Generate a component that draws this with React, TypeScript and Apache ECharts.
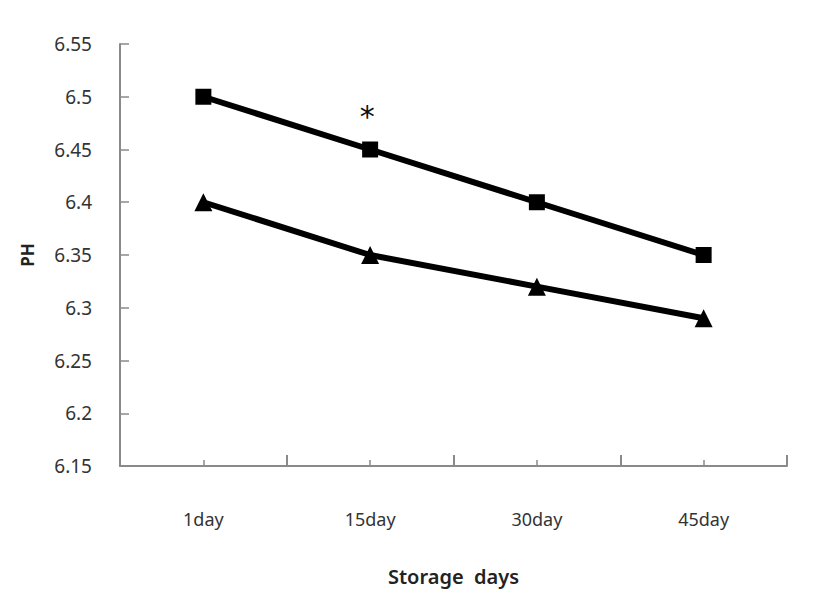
import React, { useEffect, useRef } from "react";
import * as echarts from "echarts";

const categories = ["1day", "15day", "30day", "45day"];
const seriesSquare = [6.5, 6.45, 6.4, 6.35];
const seriesTriangle = [6.4, 6.35, 6.32, 6.29];
const yTicks = { min: 6.15, max: 6.55, interval: 0.05 };
const markIndex = 1; // asterisk on 15day

export default function App() {
  const ref = useRef<HTMLDivElement>(null);
  useEffect(() => {
    const chart = echarts.init(ref.current!, undefined, { renderer: "svg" });
    const font = "'Noto Sans', 'Open Sans', sans-serif";
    chart.setOption({
      animation: false,
      backgroundColor: "#ffffff",
      grid: { left: 112, right: 32, top: 36, bottom: 132 },
      xAxis: [
        {
          type: "category",
          data: categories,
          boundaryGap: true,
          name: "Storage  days",
          nameLocation: "middle",
          nameGap: 100,
          nameTextStyle: { fontFamily: font, fontSize: 20, fontWeight: 600, color: "#222" },
          axisLine: { lineStyle: { color: "#8a8a8a", width: 2 } },
          axisTick: { show: true, inside: true, length: 11, lineStyle: { color: "#8a8a8a", width: 2 } },
          axisLabel: { fontFamily: font, fontSize: 18, color: "#333", margin: 44 },
          splitLine: { show: false },
        },
        {
          type: "value",
          min: 0,
          max: 8,
          interval: 1,
          position: "bottom",
          axisLine: { show: false },
          axisTick: { show: true, inside: true, length: 6, lineStyle: { color: "#8a8a8a", width: 1.5 } },
          axisLabel: { show: false },
          splitLine: { show: false },
        },
      ],
      yAxis: {
        type: "value",
        min: yTicks.min,
        max: yTicks.max,
        interval: yTicks.interval,
        name: "PH",
        nameLocation: "middle",
        nameGap: 84,
        nameRotate: 90,
        nameTextStyle: { fontFamily: font, fontSize: 17, fontWeight: "bold", color: "#222" },
        axisLine: { show: true, lineStyle: { color: "#8a8a8a", width: 2 } },
        axisTick: { show: true, inside: true, length: 9, lineStyle: { color: "#8a8a8a", width: 1.5 } },
        axisLabel: {
          fontFamily: font,
          fontSize: 19,
          color: "#333",
          margin: 28,
          formatter: (v: number) => String(parseFloat(v.toFixed(2))),
        },
        splitLine: { show: false },
      },
      series: [
        {
          type: "line",
          xAxisIndex: 0,
          data: seriesSquare.map((v, i) =>
            i === markIndex
              ? {
                  value: v,
                  label: {
                    show: true,
                    formatter: "*",
                    position: "top",
                    distance: 6,
                    fontSize: 30,
                    fontFamily: "'DejaVu Sans', sans-serif",
                    color: "#111",
                    offset: [-3, -4],
                  },
                }
              : v
          ),
          symbol: "rect",
          symbolSize: 16,
          lineStyle: { color: "#000", width: 6 },
          itemStyle: { color: "#000" },
        },
        {
          type: "line",
          xAxisIndex: 0,
          data: seriesTriangle,
          symbol: "triangle",
          symbolSize: 18,
          lineStyle: { color: "#000", width: 6 },
          itemStyle: { color: "#000" },
        },
      ],
    });
    return () => chart.dispose();
  }, []);
  return <div ref={ref} style={{ width: 811, height: 590 }} />;
}
